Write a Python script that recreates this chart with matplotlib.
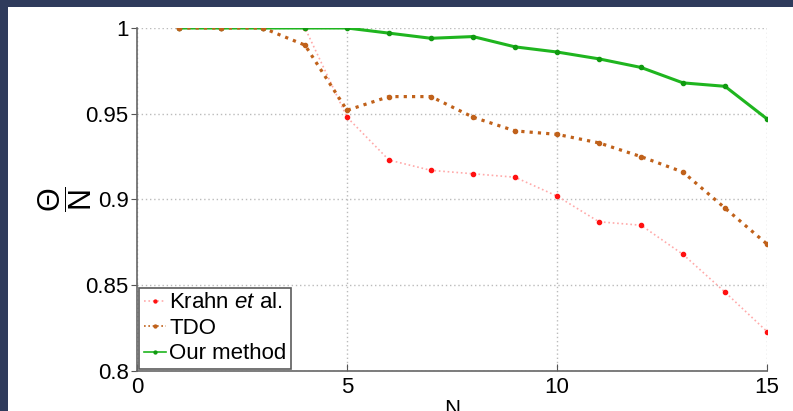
import numpy as np
import matplotlib
matplotlib.use('Agg')
import matplotlib.pyplot as plt
from matplotlib.patches import Rectangle

# valeurs
n_values = [1, 2, 3, 4, 5, 6, 7, 8, 9, 10, 11, 12, 13, 14, 15]
krahn = [1.0, 1.0, 1.0, 1.0, 0.948, 0.923, 0.917, 0.915, 0.913, 0.902,
         0.887, 0.885, 0.868, 0.846, 0.823]
tdo = [1.0, 1.0, 1.0, 0.990, 0.952, 0.960, 0.960, 0.948, 0.940, 0.938,
       0.933, 0.925, 0.916, 0.895, 0.874]
ours = [1.0, 1.0, 1.0, 1.0, 1.0, 0.997, 0.994, 0.995, 0.989, 0.986,
        0.982, 0.977, 0.968, 0.966, 0.947]
x_ticks = [0, 5, 10, 15]
y_ticks = [0.8, 0.85, 0.9, 0.95, 1.0]
y_tick_labels = ['0.8', '0.85', '0.9', '0.95', '1']

plt.rcParams['font.family'] = ['Liberation Sans', 'DejaVu Sans']
plt.rcParams['mathtext.fontset'] = 'custom'
plt.rcParams['mathtext.rm'] = 'Liberation Sans'
plt.rcParams['mathtext.it'] = 'Liberation Sans:italic'
plt.rcParams['mathtext.bf'] = 'Liberation Sans:bold'

fig = plt.figure(figsize=(7.93, 4.11), dpi=100)
fig.patch.set_facecolor('#2f3b5c')
# zone blanche de la diapositive
fig.patches.append(Rectangle((8 / 793, 0), 1 - 8 / 793, 1 - 7 / 411,
                             transform=fig.transFigure, facecolor='white',
                             edgecolor='none', zorder=-10))

ax = fig.add_axes([137 / 793, 40 / 411, 630 / 793, 343 / 411])
ax.set_facecolor('white')

l1, = ax.plot(n_values, krahn, linestyle=':', color='#ffaaaa', linewidth=1.2,
              marker='.', markersize=6, markerfacecolor='#ff1010',
              markeredgecolor='#ff1010', label=r'Krahn $\it{et}$ al.', zorder=2)
l3, = ax.plot(n_values, ours, linestyle='-', color='#1fb51f', linewidth=2.2,
              marker='.', markersize=6, markerfacecolor='#109a10',
              markeredgecolor='#109a10', label='Our method', zorder=3)
l2, = ax.plot(n_values, tdo, linestyle=(0, (1, 1.6)), color='#c0611a', linewidth=2.3,
              marker='.', markersize=6, label='TDO', zorder=4)

ax.set_xlim(0, 15)
ax.set_ylim(0.8, 1.0)
ax.set_xticks(x_ticks)
ax.set_yticks(y_ticks)
ax.set_yticklabels(y_tick_labels)
ax.tick_params(axis='both', labelsize=16, colors='#555555', labelcolor='black')
ax.tick_params(axis='x', direction='in', length=5, pad=4)
ax.tick_params(axis='y', direction='out', length=4, pad=2)

ax.grid(True, linestyle=(0, (1, 2)), color='#bbbbbb', linewidth=1.0)
ax.set_axisbelow(True)
for side in ['top', 'right']:
    ax.spines[side].set_visible(False)
for side in ['left', 'bottom']:
    ax.spines[side].set_color('#666666')
    ax.spines[side].set_linewidth(1.2)

ax.set_xlabel('N', fontsize=16, labelpad=1)
ax.set_ylabel(r'$\dfrac{\Theta}{\mathrm{N}}$', fontsize=22, labelpad=-6)

leg = ax.legend(handles=[l1, l2, l3], loc='lower left', bbox_to_anchor=(0, 0),
                fontsize=16, frameon=True, fancybox=False, borderaxespad=0.1,
                borderpad=0.2, labelspacing=0.2, handlelength=1.0,
                handletextpad=0.15, markerscale=0.7)
leg.get_frame().set_edgecolor('#333333')
leg.get_frame().set_linewidth(1.2)
for h in leg.get_lines():
    h.set_linewidth(1.2)

fig.savefig('out.png', dpi=100, facecolor=fig.get_facecolor())
